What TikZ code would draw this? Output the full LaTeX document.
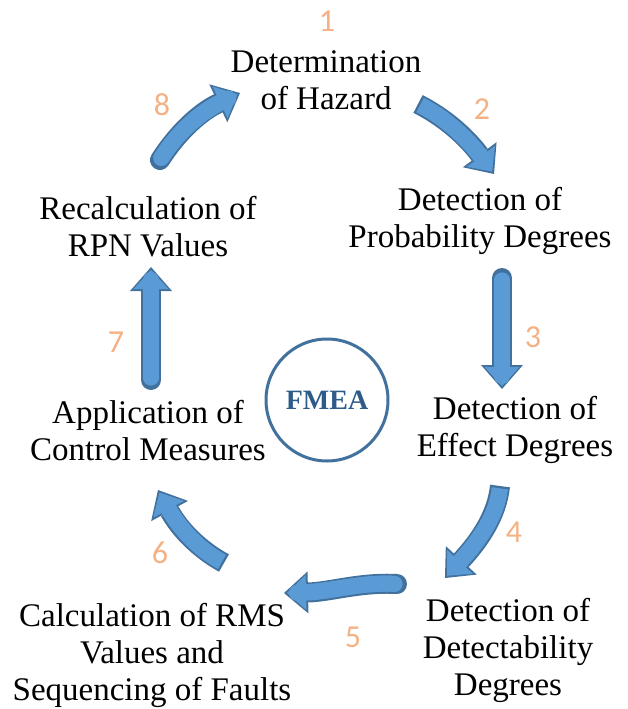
\documentclass[tikz,border=0pt]{standalone}
\usepackage{fontspec}
\setmainfont{Liberation Serif}
\newfontfamily\numfont{Carlito}
\usetikzlibrary{arrows.meta}
\definecolor{arrowfill}{HTML}{5B9BD5}
\definecolor{arrowedge}{HTML}{41719C}
\definecolor{numcol}{HTML}{F4B183}
\definecolor{fmeacol}{HTML}{2E5C8A}
\definecolor{circcol}{HTML}{41719C}
\newcommand\blockarr[2][round]{%
  \draw[line width=20pt, draw=arrowedge, line cap=#1,
        -{Triangle[width=42pt,length=24pt,line width=0pt]}] #2;
  \draw[line width=16pt, draw=arrowfill, line cap=#1, shorten <=2.5pt, shorten >=3pt,
        -{Triangle[width=35pt,length=19pt,line width=0pt]}] #2;
  \draw[line width=16pt, draw=arrowfill, line cap=#1, shorten <=2.5pt, shorten >=13pt] #2;
}
\begin{document}
\begin{tikzpicture}[x=1pt,y=-1pt,
  lbl/.style={align=center, font=\fontsize{33}{37}\selectfont, inner sep=0pt},
  num/.style={font=\numfont\fontsize{32}{32}\selectfont, text=numcol, inner sep=0pt}]
\useasboundingbox (0,0) rectangle (627,709);

% labels
\node[lbl] (n1) at (326,80) {Determination\\of Hazard};
\node[lbl] (n2) at (480,221) {Detection of\\Probability Degrees};
\node[lbl] (n3) at (515,430) {Detection of\\Effect Degrees};
\node[lbl] (n4) at (508,650) {Detection of\\Detectability\\Degrees};
\node[lbl] (n5) at (152,655) {Calculation of RMS\\Values and\\Sequencing of Faults};
\node[lbl] (n6) at (148,431) {Application of\\Control Measures};
\node[lbl] (n7) at (148,227) {Recalculation of\\RPN Values};

% step numbers
\node[num] (k1) at (327,21) {1};
\node[num] (k2) at (482,109) {2};
\node[num] (k3) at (533,337) {3};
\node[num] (k4) at (514,532) {4};
\node[num] (k5) at (353,637) {5};
\node[num] (k6) at (160,553) {6};
\node[num] (k7) at (116,342) {7};
\node[num] (k8) at (162,105) {8};

% centre
\node[circle, draw=circcol, line width=3pt, minimum size=122pt, inner sep=0pt,
      font=\bfseries\fontsize{28}{28}\selectfont, text=fmeacol] (fmea) at (327,400) {FMEA};

% arrow end points
\coordinate (a1s) at (418,104); \coordinate (a1e) at (494,174);
\coordinate (a2s) at (502,278); \coordinate (a2e) at (502,389);
\coordinate (a3s) at (500,486); \coordinate (a3e) at (445,578);
\coordinate (a4s) at (397,584); \coordinate (a4e) at (284,593);
\coordinate (a5s) at (224,563); \coordinate (a5e) at (158,490);
\coordinate (a6s) at (151,380); \coordinate (a6e) at (151,267);
\coordinate (a7s) at (160,160); \coordinate (a7e) at (240,93);

\blockarr[butt]{(a1s) .. controls (442,116) and (465,135) .. (a1e)}
\blockarr{(a2s) -- (a2e)}
\blockarr[butt]{(a3s) .. controls (497,515) and (480,540) .. (a3e)}
\blockarr{(a4s) .. controls (360,582) and (330,592) .. (a4e)}
\blockarr[butt]{(a5s) .. controls (200,550) and (180,530) .. (a5e)}
\blockarr{(a6s) -- (a6e)}
\blockarr{(a7s) .. controls (178,132) and (200,112) .. (a7e)}
\end{tikzpicture}
\end{document}
